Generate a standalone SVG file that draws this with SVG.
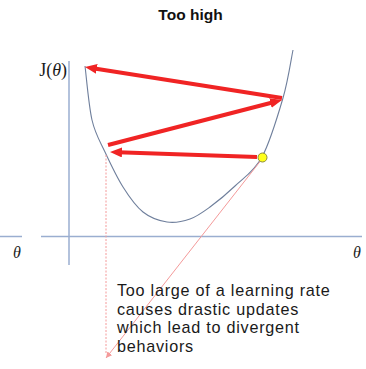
<svg xmlns="http://www.w3.org/2000/svg" width="366" height="369" viewBox="0 0 366 369">
<style>
.axis{stroke:#9aaed0;stroke-width:1.5;fill:none}
.curve{stroke:#6f7f9c;stroke-width:1.1;fill:none}
.big{stroke:#f02424;stroke-width:4;fill:none}
.thin{stroke:#f49a9a;stroke-width:1;fill:none}
.lbl{font-family:"Liberation Sans",Arial,sans-serif;font-size:16.2px;letter-spacing:0.75px;fill:#1a1a1a}
.math{font-family:"Liberation Serif","Times New Roman",serif;fill:#1a1a1a}
</style>
<defs>
<marker id="ah" markerUnits="userSpaceOnUse" markerWidth="12" markerHeight="10" refX="4" refY="5" orient="auto"><path d="M0,0 L12,5 L0,10 z" fill="#f02424"/></marker>
<marker id="ahs" markerUnits="userSpaceOnUse" markerWidth="6" markerHeight="6" refX="6" refY="3" orient="auto"><path d="M0,0 L6,3 L0,6 z" fill="#f49a9a"/></marker>
</defs>
<rect width="366" height="369" fill="#ffffff"/>
<text x="190.5" y="20" text-anchor="middle" style="font-family:'Liberation Sans',Arial,sans-serif;font-size:15.5px;font-weight:bold;fill:#111">Too high</text>
<g id="axes">
<line class="axis" x1="0" y1="236.5" x2="22" y2="236.5"/>
<line class="axis" x1="41" y1="236.5" x2="362" y2="236.5"/>
<line class="axis" x1="69" y1="61" x2="69" y2="265"/>
<text class="math" x="67" y="76" text-anchor="end" font-size="18">J(<tspan font-style="italic">θ</tspan>)</text>
<text class="math" x="17" y="258" text-anchor="middle" font-size="16" font-style="italic">θ</text>
<text class="math" x="357" y="258" text-anchor="middle" font-size="16" font-style="italic">θ</text>
</g>
<g id="curve">
<path class="curve" d="M85,66 C86.2,75 88.7,105.7 92,120 C95.3,134.3 99.8,140.8 105,152 C110.2,163.2 116.7,177 123,187 C129.3,197 135.7,206.2 143,212 C150.3,217.8 159.2,220.8 167,222 C174.8,223.2 182.8,221.5 190,219 C197.2,216.5 202.5,212.5 210,207 C217.5,201.5 226.3,194.3 235,186 C243.7,177.7 254,171.7 262,157 C270,142.3 277.8,115.8 283,98 C288.2,80.2 291.3,58 293,50"/>
</g>
<g id="connectors">
<line class="big" x1="282" y1="98" x2="92.9" y2="68.2" marker-end="url(#ah)"/>
<line class="big" x1="108" y1="145" x2="274.3" y2="102" marker-end="url(#ah)"/>
<line class="big" x1="257" y1="157" x2="118" y2="152.3" marker-end="url(#ah)"/>
<line class="thin" x1="106" y1="155" x2="106" y2="354" stroke-dasharray="2 1.5"/>
<line class="thin" x1="262" y1="159" x2="106" y2="358" marker-end="url(#ahs)"/>
</g>
<g id="point">
<circle cx="262.5" cy="157.5" r="4.5" fill="#ffff1a" stroke="#8c8c3a" stroke-width="1"/>
</g>
<g id="note">
<text class="lbl" x="117" y="296">Too large of a learning rate</text>
<text class="lbl" x="117" y="314.7">causes drastic updates</text>
<text class="lbl" x="117" y="333.4">which lead to divergent</text>
<text class="lbl" x="117" y="352">behaviors</text>
</g>
</svg>
